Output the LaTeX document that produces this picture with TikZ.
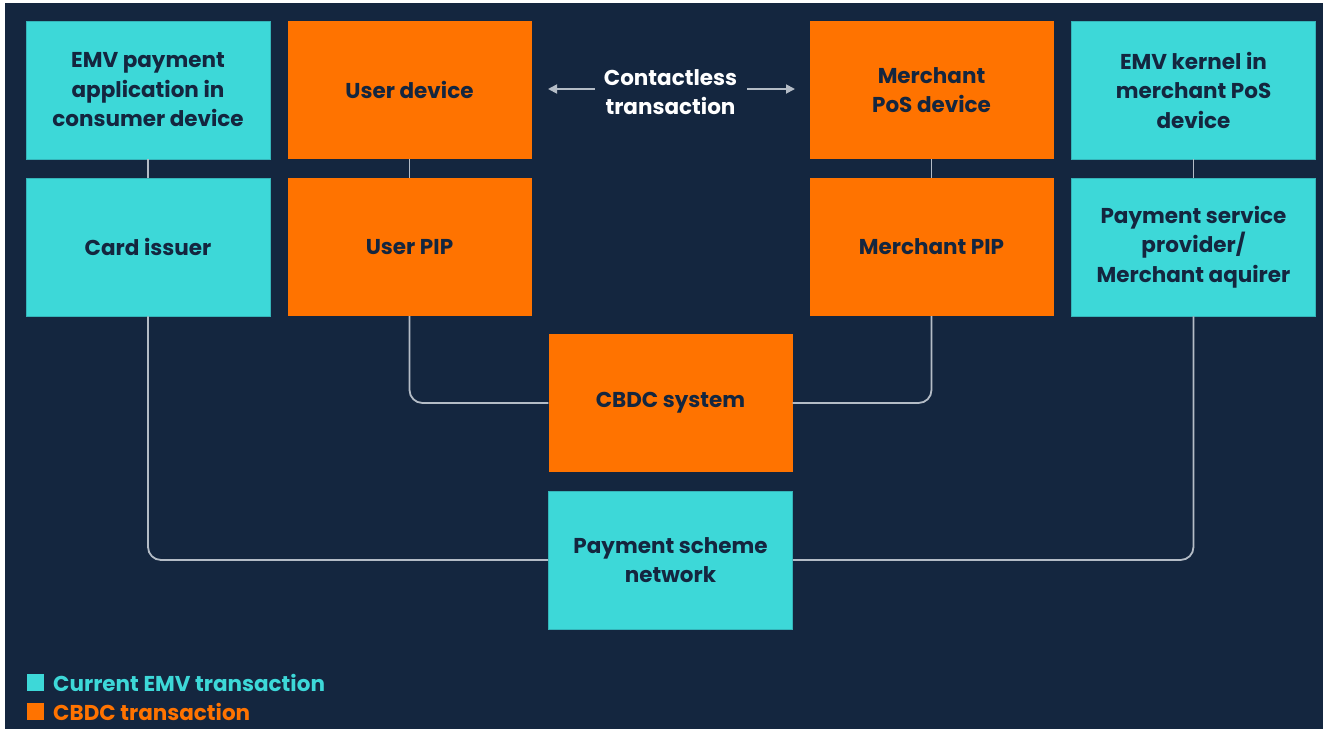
\documentclass[tikz,border=0pt]{standalone}
\usepackage{fontspec}
\setmainfont{Poppins}
\usetikzlibrary{arrows.meta}
\definecolor{navy}{HTML}{14263F}
\definecolor{emv}{HTML}{3DD8D8}
\definecolor{cbdc}{HTML}{FF7300}
\definecolor{wire}{HTML}{B4BCC6}
\tikzset{
  x=1pt, y=-1pt,
  box/.style={minimum width=244pt, minimum height=138pt, inner sep=0pt,
    align=center, text=navy, font=\fontsize{21.5}{29.5}\selectfont\bfseries},
  emvbox/.style={box, fill=emv, draw=emv!80!navy, line width=0.6pt},
  cbdcbox/.style={box, fill=cbdc},
  wireline/.style={draw=wire, line width=1.8pt, rounded corners=13pt},
  arrowline/.style={draw=wire, line width=1.8pt, -{Triangle[length=9pt,width=9pt]}},
  legsq/.style={minimum size=17pt, inner sep=0pt},
  legtext/.style={anchor=west, inner sep=0pt, font=\fontsize{21.5}{24}\selectfont\bfseries}
}
\begin{document}
\begin{tikzpicture}
\useasboundingbox (0,0) rectangle (1323,729);
\fill[white] (0,0) rectangle (1323,729);
\fill[navy] (5,3) rectangle (1323,729);

% top row: devices
\node[emvbox]  (emvapp) at (148,90)    {EMV payment\\application in\\consumer device};
\node[cbdcbox] (udev)   at (409.5,90)  {User device};
\node[cbdcbox] (mpos)   at (931.5,90)  {Merchant\\PoS device};
\node[emvbox]  (kernel) at (1193.5,90) {EMV kernel in\\merchant PoS\\device};

% second row: providers
\node[emvbox]  (issuer) at (148,247)    {Card issuer};
\node[cbdcbox] (upip)   at (409.5,247)  {User PIP};
\node[cbdcbox] (mpip)   at (931.5,247)  {Merchant PIP};
\node[emvbox]  (psp)    at (1193.5,247) {Payment service\\provider/\\Merchant aquirer};

% central systems
\node[cbdcbox] (cbdcsys) at (670.5,403) {CBDC system};
\node[emvbox]  (scheme)  at (670.5,560) {Payment scheme\\network};

% contactless link
\node[text=white, align=center, font=\fontsize{21.5}{29.5}\selectfont\bfseries] (ct) at (670.5,92) {Contactless\\transaction};
\coordinate (la0) at (595,89);
\coordinate (la1) at (548,89);
\coordinate (ra0) at (747,89);
\coordinate (ra1) at (795,89);
\draw[arrowline] (la0) -- (la1);
\draw[arrowline] (ra0) -- (ra1);

% connectors
\draw[wireline] (emvapp.south) -- (issuer.north);
\draw[wireline] (udev.south) -- (upip.north);
\draw[wireline] (mpos.south) -- (mpip.north);
\draw[wireline] (kernel.south) -- (psp.north);
\draw[wireline] (upip.south) |- (cbdcsys.west);
\draw[wireline] (mpip.south) |- (cbdcsys.east);
\draw[wireline] (issuer.south) |- (scheme.west);
\draw[wireline] (psp.south) |- (scheme.east);

% legend
\node[legsq, fill=emv]  (lgemv)  at (35.5,682.5) {};
\node[legsq, fill=cbdc] (lgcbdc) at (35.5,711.5) {};
\node[legtext, text=emv]  (lgemvt)  at (53,683) {Current EMV transaction};
\node[legtext, text=cbdc] (lgcbdct) at (53,712) {CBDC transaction};
\end{tikzpicture}
\end{document}
